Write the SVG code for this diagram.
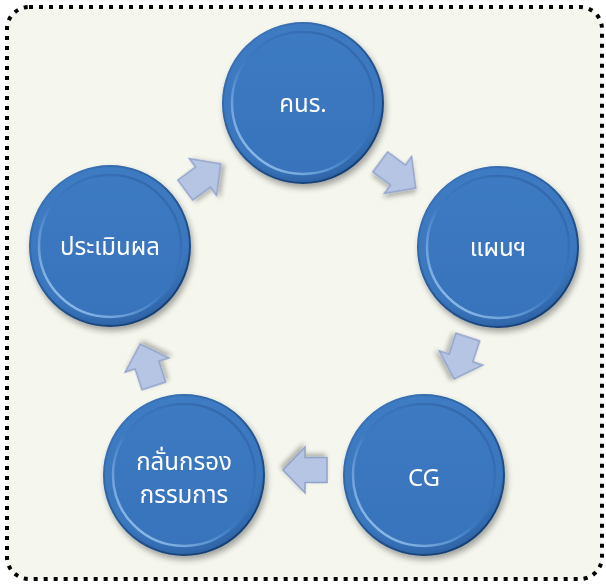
<svg xmlns="http://www.w3.org/2000/svg" width="606" height="585" viewBox="0 0 606 585">
<defs>
<radialGradient id="outer" cx="0.45" cy="0.35" r="0.65">
<stop offset="0" stop-color="#4380c8"/>
<stop offset="0.85" stop-color="#3a77bf"/>
<stop offset="1" stop-color="#2e63a6"/>
</radialGradient>
<linearGradient id="rim" x1="0.85" y1="0.1" x2="0.15" y2="0.9">
<stop offset="0" stop-color="#3369ad"/>
<stop offset="0.55" stop-color="#3c79c1"/>
<stop offset="1" stop-color="#8dbbe8"/>
</linearGradient>
<linearGradient id="inner" x1="0" y1="0" x2="0" y2="1">
<stop offset="0" stop-color="#3c7ac2"/>
<stop offset="1" stop-color="#3873bb"/>
</linearGradient>
<linearGradient id="edge" x1="0.2" y1="0.1" x2="0.8" y2="0.9">
<stop offset="0" stop-color="#3a72b6"/>
<stop offset="1" stop-color="#173f73"/>
</linearGradient>
<filter id="sh" x="-30%" y="-30%" width="160%" height="160%">
<feGaussianBlur in="SourceAlpha" stdDeviation="3"/>
<feOffset dx="2" dy="4"/>
<feComponentTransfer><feFuncA type="linear" slope="0.35"/></feComponentTransfer>
<feMerge><feMergeNode/><feMergeNode in="SourceGraphic"/></feMerge>
</filter>
<filter id="ash" x="-40%" y="-40%" width="180%" height="180%">
<feGaussianBlur in="SourceAlpha" stdDeviation="2.5"/>
<feOffset dx="2" dy="3"/>
<feComponentTransfer><feFuncA type="linear" slope="0.3"/></feComponentTransfer>
<feMerge><feMergeNode/><feMergeNode in="SourceGraphic"/></feMerge>
</filter>
<g id="ball">
<circle r="80" fill="url(#outer)" stroke="url(#edge)" stroke-width="2"/>
<circle r="71" fill="url(#inner)" stroke="url(#rim)" stroke-width="2.5"/>
</g>
<polygon id="arr" points="-22,-12.5 0,-12.5 0,-23 22,0 0,23 0,12.5 -22,12.5"/>
</defs>
<style>
.lbl{font-family:"Noto Sans Thai","Noto Sans","DejaVu Sans",sans-serif;font-size:24px;fill:#ffffff;text-anchor:middle}
.a{fill:#b6c5e4;stroke:#91a2ca;stroke-width:1.5;stroke-linejoin:miter}
</style>
<rect x="0" y="0" width="606" height="585" fill="#ffffff"/>
<rect x="7" y="7" width="595" height="572" rx="22" ry="22" fill="#f5f7ee" stroke="#000000" stroke-width="4" stroke-dasharray="4 6"/>
<g id="connectors">
<use href="#arr" class="a" filter="url(#ash)" transform="translate(203,177) rotate(-36.5)"/>
<use href="#arr" class="a" filter="url(#ash)" transform="translate(398,175) rotate(36.4)"/>
<use href="#arr" class="a" filter="url(#ash)" transform="translate(461,358) rotate(108)"/>
<use href="#arr" class="a" filter="url(#ash)" transform="translate(305,470) rotate(180)"/>
<use href="#arr" class="a" filter="url(#ash)" transform="translate(147,365) rotate(-108)"/>
</g>
<g id="n1" filter="url(#sh)"><use href="#ball" transform="translate(303,103)"/><text class="lbl" x="303" y="112">คนร.</text></g>
<g id="n2" filter="url(#sh)"><use href="#ball" transform="translate(498,247)"/><text class="lbl" x="498" y="256">แผนฯ</text></g>
<g id="n3" filter="url(#sh)"><use href="#ball" transform="translate(424,475)"/><text class="lbl" x="424" y="486">CG</text></g>
<g id="n4" filter="url(#sh)"><use href="#ball" transform="translate(184,475)"/><text class="lbl" x="184" y="470">กลั่นกรอง</text><text class="lbl" x="184" y="503">กรรมการ</text></g>
<g id="n5" filter="url(#sh)"><use href="#ball" transform="translate(110,246)"/><text class="lbl" x="110" y="255">ประเมินผล</text></g>
</svg>
